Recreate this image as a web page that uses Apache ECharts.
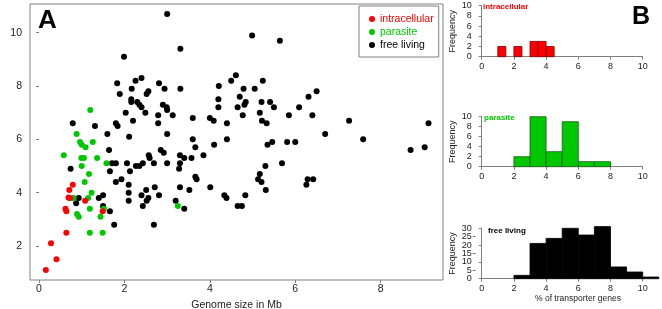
<!DOCTYPE html>
<html>
<head>
<meta charset="utf-8">
<script src="https://cdn.jsdelivr.net/npm/echarts@6/dist/echarts.min.js"></script>
<style>
  html, body { margin: 0; padding: 0; background: #fff; }
  #chart { width: 662px; height: 309px; }
</style>
</head>
<body>
<div id="chart"></div>
<script>
// genome size (Mb), % of transporter genes
var intracellular = [[0.79,4.3],[0.71,4.1],[0.69,3.82],[0.73,3.8],[0.62,3.4],[0.64,3.3],[1.08,3.7],[1.49,3.3],
    [0.64,2.5],[0.28,2.1],[0.41,1.5],[0.16,1.1]];
var parasite = [[1.20,7.1],[0.88,6.2],[0.96,5.9],[1.00,5.8],[1.09,5.7],[1.26,5.9],[0.58,5.4],[0.99,5.3],[1.05,5.3],
    [1.36,5.3],[1.58,5.1],[1.00,5.0],[1.17,4.7],[1.07,4.4],[1.23,4.0],[0.81,3.8],[1.15,3.8],[1.19,3.4],[1.52,3.4],
    [0.89,3.2],[0.93,3.1],[1.44,3.1],[1.19,2.5],[1.49,2.5],[3.25,3.5],[0.71,3.8]];
var freeLiving = [[0.79,6.6],[1.31,6.5],[1.60,6.2],[1.64,5.6],[1.99,9.1],[1.83,8.1],[1.89,7.7],[2.17,7.9],[2.26,8.2],[2.40,8.3],
    [2.16,7.5],[2.16,7.4],[2.30,7.4],[2.35,7.3],[2.40,7.2],[2.03,7.0],[2.49,7.0],[2.20,6.7],[1.80,6.6],[1.84,6.5],
    [2.11,6.1],[2.56,7.8],[2.52,7.7],[2.81,8.1],[2.94,7.9],[3.31,9.4],[3.31,7.9],[3.00,10.7],[2.90,7.3],[2.99,7.2],
    [3.00,7.1],[2.79,6.9],[3.13,6.9],[2.79,6.6],[3.00,6.2],[3.60,6.8],[3.60,6.0],[3.66,5.7],[4.00,6.8],[4.09,6.7],
    [4.10,5.8],[4.21,8.0],[4.20,7.5],[4.20,7.2],[4.40,6.6],[4.40,6.0],[4.50,8.2],[4.61,8.4],[4.70,7.6],[4.65,7.2],
    [4.81,7.3],[4.84,7.4],[4.77,6.9],[4.79,7.9],[5.05,7.9],[4.99,9.9],[5.64,9.7],[5.24,8.2],[5.21,7.4],[5.41,7.4],
    [5.50,7.2],[5.17,7.0],[5.22,6.7],[5.33,6.6],[5.85,6.9],[6.09,7.2],[6.31,7.6],[6.50,7.8],[6.40,6.9],[6.70,6.2],
    [7.26,6.7],[7.59,6.0],[9.12,6.6],[5.35,5.8],[5.46,5.9],[5.81,5.9],[6.00,5.9],[8.70,5.6],[9.03,5.7],[5.30,5.0],
    [5.69,5.1],[5.17,4.7],[5.13,4.5],[5.21,4.4],[5.31,4.1],[6.29,4.5],[6.42,4.5],[6.26,4.3],[4.65,3.5],[4.75,3.5],
    [4.83,3.9],[4.34,3.9],[4.39,3.8],[4.01,4.2],[3.66,4.6],[3.69,4.5],[3.52,4.1],[3.30,4.2],[3.20,3.7],[3.40,3.4],
    [2.69,2.8],[2.81,3.9],[2.51,4.1],[2.71,4.2],[2.40,3.9],[2.56,3.8],[2.52,3.7],[2.43,3.5],[3.85,5.4],[1.71,5.1],
    [1.80,5.1],[1.66,4.8],[1.93,4.5],[1.80,4.4],[2.06,5.1],[2.13,4.8],[2.10,4.3],[2.10,4.0],[2.10,3.7],[2.27,5.0],
    [2.35,5.0],[2.43,5.1],[2.57,5.4],[2.59,5.3],[2.69,5.1],[2.85,5.6],[2.92,5.5],[3.00,5.1],[3.30,5.4],[3.28,4.9],
    [3.30,5.1],[3.40,5.3],[3.57,5.3],[0.74,4.9],[0.87,3.6],[0.93,3.8],[1.40,3.8],[1.50,3.9],[1.50,3.5],[1.66,3.3],
    [1.76,2.8]];

// histograms of % of transporter genes
var intraBinStart = [1, 2, 3, 3.5, 4];
var intraBinEnd = [1.5, 2.5, 3.5, 4, 4.5];
var intraCount = [2, 2, 3, 3, 2];
var paraBinStart = [2, 3, 4, 5, 6, 7];
var paraBinEnd = [3, 4, 5, 6, 7, 8];
var paraCount = [2, 10, 3, 9, 1, 1];
var freeBinStart = [2, 3, 4, 5, 6, 7, 8, 9, 10];
var freeBinEnd = [3, 4, 5, 6, 7, 8, 9, 10, 11];
var freeCount = [2, 21, 24, 30, 26, 31, 7, 4, 1];

var genomeTicks = [0, 2, 4, 6, 8];
var percentTicks = [2, 4, 6, 8, 10];
var histXTicks = [0, 2, 4, 6, 8, 10];
var smallFreqTicks = [0, 2, 4, 6, 8, 10];
var largeFreqTicks = [0, 10, 20, 30];
var largeFreqMidTicks = [5, 15, 25];

var FONT = '"Liberation Sans", Arial, Helvetica, sans-serif';
var RED = '#ff0000';
var GREEN = '#00c800';
var AXIS = '#808080';
var TEXT = '#222';

var chartDom = document.getElementById('chart');
var myChart = echarts.init(chartDom);

function bins(start, end, count) {
    return start.map(function (s, i) { return [s, end[i], count[i]]; });
}

function histRender(fill, stroke) {
    return function (params, api) {
        var p0 = api.coord([api.value(0), api.value(2)]);
        var p1 = api.coord([api.value(1), 0]);
        return {
            type: 'rect',
            shape: { x: p0[0], y: p0[1], width: p1[0] - p0[0], height: p1[1] - p0[1] },
            style: { fill: fill, stroke: stroke, lineWidth: 0.8 }
        };
    };
}

function histX(idx) {
    return {
        type: 'value', gridIndex: idx, min: 0, max: 10, offset: 2,
        axisLine: { show: true, lineStyle: { color: AXIS } },
        axisTick: { show: true, length: 3, customValues: histXTicks, lineStyle: { color: AXIS } },
        axisLabel: { fontSize: 9, color: TEXT, fontFamily: FONT, margin: 3, customValues: histXTicks,
                     hideOverlap: false, showMinLabel: true, showMaxLabel: true },
        splitLine: { show: false }
    };
}

function histY(idx, max, ticks) {
    return {
        type: 'value', gridIndex: idx, min: 0, max: max, offset: 6,
        name: 'Frequency', nameLocation: 'middle', nameGap: 19,
        nameTextStyle: { fontSize: 9, color: TEXT, fontFamily: FONT },
        axisLine: { show: true, lineStyle: { color: AXIS } },
        axisTick: { show: true, length: 3, customValues: ticks, lineStyle: { color: AXIS } },
        axisLabel: { fontSize: 9, color: TEXT, fontFamily: FONT, margin: 4, customValues: ticks,
                     hideOverlap: false, showMinLabel: true, showMaxLabel: true },
        splitLine: { show: false }
    };
}

// second label layer for the in-between counts of the free living histogram
var freeMidAxis = {
    type: 'value', gridIndex: 3, min: 0, max: 30, offset: 6, position: 'left',
    axisLine: { show: false },
    axisTick: { show: true, length: 3, customValues: largeFreqMidTicks, lineStyle: { color: AXIS } },
    axisLabel: { fontSize: 9, color: TEXT, fontFamily: FONT, margin: 4, customValues: largeFreqMidTicks,
                 hideOverlap: false },
    splitLine: { show: false }
};

var option = {
    animation: false,
    backgroundColor: '#fff',
    grid: [
        { left: 30, top: 4, width: 413, height: 276, show: true, borderColor: AXIS, borderWidth: 1, outerBoundsMode: 'none' },
        { left: 481.7, top: 5.7, width: 161, height: 51, outerBoundsMode: 'none' },
        { left: 481.7, top: 116.7, width: 161, height: 50, outerBoundsMode: 'none' },
        { left: 481.7, top: 228.3, width: 161, height: 50.4, outerBoundsMode: 'none' }
    ],
    xAxis: [
        {
            type: 'value', gridIndex: 0, min: -0.211, max: 9.459,
            name: 'Genome size in Mb', nameLocation: 'middle', nameGap: 12,
            nameTextStyle: { fontSize: 10.5, color: TEXT, fontFamily: FONT },
            axisLine: { show: false },
            axisTick: { show: true, length: 3, customValues: genomeTicks, lineStyle: { color: AXIS } },
            axisLabel: { fontSize: 10.5, color: TEXT, fontFamily: FONT, margin: 4, customValues: genomeTicks },
            splitLine: { show: false }
        },
        histX(1), histX(2), histX(3)
    ],
    yAxis: [
        {
            type: 'value', gridIndex: 0, min: 0.725, max: 11.077,
            name: '% of transporter genes', nameLocation: 'middle', nameGap: 16,
            nameTextStyle: { fontSize: 10.5, color: TEXT, fontFamily: FONT },
            axisLine: { show: false },
            axisTick: { show: true, length: 3, customValues: percentTicks, lineStyle: { color: AXIS } },
            axisLabel: { fontSize: 10.5, color: TEXT, fontFamily: FONT, margin: 8, customValues: percentTicks },
            splitLine: { show: false }
        },
        histY(1, 10, smallFreqTicks), histY(2, 10, smallFreqTicks), histY(3, 30, largeFreqTicks),
        freeMidAxis
    ],
    legend: {
        orient: 'vertical', left: 359, top: 6,
        padding: [7, 5, 6, 10],
        borderColor: AXIS, borderWidth: 1, backgroundColor: '#fff',
        icon: 'circle', itemWidth: 6, itemHeight: 6, itemGap: 1,
        textStyle: { fontSize: 10.5, fontFamily: FONT, lineHeight: 12 },
        data: [
            { name: 'intracellular', textStyle: { color: RED } },
            { name: 'parasite', textStyle: { color: GREEN } },
            { name: 'free living', textStyle: { color: '#000' } }
        ]
    },
    series: [
        { name: 'free living', type: 'scatter', xAxisIndex: 0, yAxisIndex: 0, symbolSize: 6,
          itemStyle: { color: '#000', opacity: 1 }, data: freeLiving },
        { name: 'parasite', type: 'scatter', xAxisIndex: 0, yAxisIndex: 0, symbolSize: 6,
          itemStyle: { color: GREEN, opacity: 1 }, data: parasite },
        { name: 'intracellular', type: 'scatter', xAxisIndex: 0, yAxisIndex: 0, symbolSize: 6,
          itemStyle: { color: RED, opacity: 1 }, data: intracellular },
        { type: 'custom', xAxisIndex: 1, yAxisIndex: 1, clip: false,
          renderItem: histRender(RED, '#7a0000'), encode: { x: [0, 1], y: 2 },
          data: bins(intraBinStart, intraBinEnd, intraCount) },
        { type: 'custom', xAxisIndex: 2, yAxisIndex: 2, clip: false,
          renderItem: histRender(GREEN, '#1a5a1a'), encode: { x: [0, 1], y: 2 },
          data: bins(paraBinStart, paraBinEnd, paraCount) },
        { type: 'custom', xAxisIndex: 3, yAxisIndex: 3, clip: false,
          renderItem: histRender('#000', '#000'), encode: { x: [0, 1], y: 2 },
          data: bins(freeBinStart, freeBinEnd, freeCount) }
    ],
    graphic: [
        { type: 'text', left: 38, top: 8, style: { text: 'A', font: 'bold 26px ' + FONT, fill: '#000' } },
        { type: 'text', left: 632, top: 5, style: { text: 'B', font: 'bold 25px ' + FONT, fill: '#000' } },
        { type: 'text', left: 483, top: 3, style: { text: 'intracellular', font: 'bold 8px ' + FONT, fill: RED } },
        { type: 'text', left: 484, top: 114, style: { text: 'parasite', font: 'bold 8px ' + FONT, fill: GREEN } },
        { type: 'text', left: 488, top: 227, style: { text: 'free living', font: 'bold 8px ' + FONT, fill: '#000' } },
        { type: 'text', x: 578, y: 299, style: { text: '% of transporter genes', font: '8.5px ' + FONT, fill: TEXT,
          align: 'center', verticalAlign: 'middle' } }
    ]
};

option && myChart.setOption(option);
</script>
</body>
</html>
